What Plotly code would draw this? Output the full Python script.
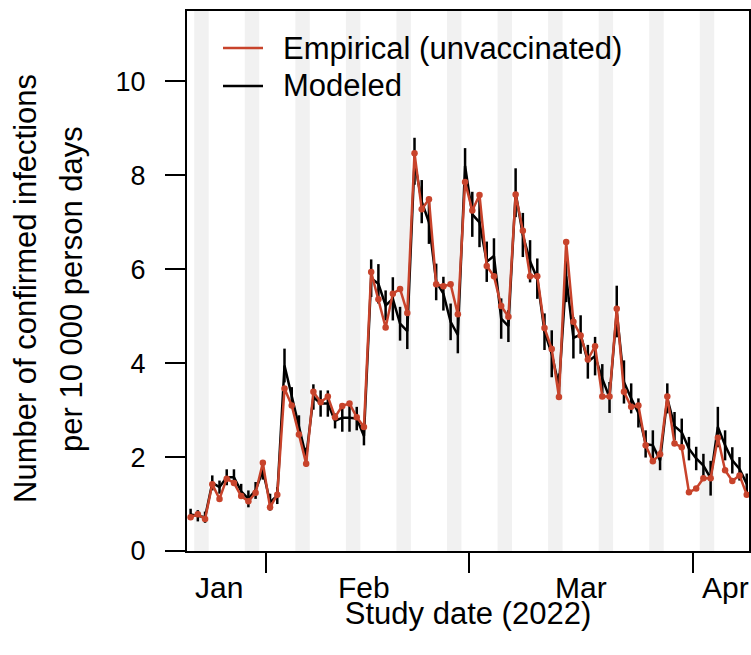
import plotly.graph_objects as go
import pandas as pd

# ---------------- data ----------------
start_date = "2022-01-21"
n_days = 78

empirical = [0.72, 0.78, 0.68, 1.42, 1.11, 1.54, 1.45, 1.17, 1.06, 1.24,
             1.88, 0.93, 1.20, 3.46, 3.10, 2.48, 1.86, 3.39, 3.17, 3.29,
             2.85, 3.09, 3.14, 2.85, 2.64, 5.94, 5.36, 4.76, 5.48, 5.58,
             5.07, 8.47, 7.28, 7.49, 5.68, 5.64, 5.68, 5.04, 7.86, 7.25,
             7.58, 6.07, 5.85, 5.22, 4.99, 7.59, 6.82, 5.85, 5.85, 4.75,
             4.30, 3.28, 6.58, 4.88, 4.59, 4.08, 4.36, 3.29, 3.29, 5.16,
             3.39, 3.07, 3.10, 2.25, 1.91, 2.06, 3.29, 2.29, 2.21, 1.25,
             1.33, 1.55, 1.55, 2.41, 1.72, 1.49, 1.61, 1.20]

modeled = [0.78, 0.75, 0.72, 1.45, 1.36, 1.57, 1.57, 1.27, 1.11, 1.29,
           1.72, 1.04, 1.18, 3.95, 3.28, 2.66, 2.00, 3.28, 3.14, 3.14,
           2.77, 2.84, 2.84, 2.82, 2.45, 5.81, 5.69, 5.23, 5.37, 4.84,
           4.68, 8.30, 7.44, 7.00, 5.73, 5.48, 4.88, 4.60, 8.20, 7.17,
           7.00, 6.16, 6.28, 4.95, 4.79, 7.63, 6.73, 6.17, 5.80, 4.67,
           4.20, 3.50, 5.85, 4.54, 4.61, 4.03, 4.15, 3.67, 3.27, 5.10,
           3.60, 3.25, 2.94, 2.28, 2.25, 1.93, 3.25, 2.66, 2.53, 2.18,
           1.97, 1.82, 1.55, 2.64, 2.25, 1.93, 1.75, 1.43]

modeled_err = [0.12, 0.12, 0.12, 0.16, 0.14, 0.17, 0.17, 0.16, 0.18, 0.18,
               0.20, 0.18, 0.18, 0.36, 0.21, 0.23, 0.20, 0.27, 0.28, 0.28,
               0.16, 0.30, 0.30, 0.25, 0.20, 0.40, 0.42, 0.32, 0.46, 0.36,
               0.38, 0.50, 0.46, 0.46, 0.39, 0.36, 0.39, 0.39, 0.38, 0.48,
               0.53, 0.43, 0.38, 0.43, 0.34, 0.52, 0.47, 0.45, 0.43, 0.39,
               0.50, 0.28, 0.55, 0.44, 0.41, 0.36, 0.41, 0.31, 0.33, 0.55,
               0.46, 0.32, 0.31, 0.29, 0.32, 0.21, 0.32, 0.30, 0.29, 0.25,
               0.25, 0.25, 0.37, 0.43, 0.32, 0.28, 0.25, 0.22]

weekend_saturdays = ["2022-01-22", "2022-01-29", "2022-02-05", "2022-02-12",
                     "2022-02-19", "2022-02-26", "2022-03-05", "2022-03-12",
                     "2022-03-19", "2022-03-26", "2022-04-02"]

month_tick_dates = ["2022-02-01", "2022-03-01", "2022-04-01"]
month_labels = ["Jan", "Feb", "Mar", "Apr"]
month_label_dates = ["2022-01-25 09:00", "2022-02-14 12:00",
                     "2022-03-16 12:00", "2022-04-05 12:00"]
x_range = ["2022-01-21 00:00", "2022-04-08 19:30"]
y_tick_vals = [0, 2, 4, 6, 8, 10]

series_names = ["Empirical (unvaccinated)", "Modeled"]

# ---------------- styles ----------------
RED = "#C8432B"
FONT = "Liberation Sans, Arial, sans-serif"
FIG_W, FIG_H = 751, 655
M_L, M_R, M_T, M_B = 187, 2, 11, 104
PLOT_W = FIG_W - M_L - M_R
PLOT_H = FIG_H - M_T - M_B


def px_x(px):  # page pixel -> paper x
    return (px - M_L) / PLOT_W


def px_y(py):  # page pixel -> paper y
    return (FIG_H - M_B - py) / PLOT_H


dates = pd.date_range(start_date, periods=n_days, freq="D") + pd.Timedelta(hours=12)

fig = go.Figure()
fig.add_trace(go.Scatter(
    x=dates, y=modeled, name=series_names[1], mode="lines",
    line=dict(color="black", width=2.5),
    error_y=dict(type="data", array=modeled_err, visible=True,
                 color="black", thickness=2.5, width=0),
    showlegend=False,
))
fig.add_trace(go.Scatter(
    x=dates, y=empirical, name=series_names[0], mode="lines+markers",
    line=dict(color=RED, width=2.5),
    marker=dict(color=RED, size=6.5),
    showlegend=False,
))

shapes = []
for s in weekend_saturdays:
    s0 = pd.Timestamp(s)
    shapes.append(dict(type="rect", xref="x", yref="paper",
                       x0=s0, x1=s0 + pd.Timedelta(days=2), y0=0, y1=1,
                       fillcolor="#F1F1F1", line=dict(width=0), layer="below"))

annotations = []
# legend (line keys + labels)
for name, col, py in [(series_names[0], RED, 48), (series_names[1], "black", 86)]:
    shapes.append(dict(type="line", xref="paper", yref="paper",
                       x0=px_x(223), x1=px_x(263), y0=px_y(py), y1=px_y(py),
                       line=dict(color=col, width=2.5)))
    annotations.append(dict(text=name, x=px_x(281), y=px_y(py), xref="paper",
                            yref="paper", xanchor="left", yanchor="middle",
                            showarrow=False,
                            font=dict(size=31, color="black", family=FONT)))

for lab, d in zip(month_labels, month_label_dates):
    annotations.append(dict(text=lab, x=d, xref="x", y=px_y(587), yref="paper",
                            xanchor="center", yanchor="middle", showarrow=False,
                            font=dict(size=30, color="black", family=FONT)))

annotations.append(dict(text="Number of confirmed infections", textangle=-90,
                        x=px_x(25), xref="paper", y=px_y(289), yref="paper",
                        xanchor="center", yanchor="middle", showarrow=False,
                        font=dict(size=31, color="black", family=FONT)))
annotations.append(dict(text="per 10 000 person days", textangle=-90,
                        x=px_x(71), xref="paper", y=px_y(289), yref="paper",
                        xanchor="center", yanchor="middle", showarrow=False,
                        font=dict(size=31, color="black", family=FONT)))

fig.update_layout(
    width=FIG_W, height=FIG_H,
    margin=dict(l=M_L, r=M_R, t=M_T, b=M_B, autoexpand=False),
    paper_bgcolor="white", plot_bgcolor="white",
    font=dict(family=FONT, size=27, color="black"),
    showlegend=False,
    shapes=shapes,
    annotations=annotations,
)

fig.update_xaxes(
    type="date", range=x_range,
    tickvals=month_tick_dates, ticktext=["", "", ""],
    ticks="outside", ticklen=20, tickwidth=2, tickcolor="black",
    showline=True, linecolor="black", linewidth=2, mirror=True,
    showgrid=False, zeroline=False,
    title=dict(text="Study date (2022)", font=dict(size=31), standoff=25),
)
fig.update_yaxes(
    range=[0, 11.5], tickvals=y_tick_vals,
    ticks="outside", ticklen=20, tickwidth=2, tickcolor="black",
    ticklabelstandoff=14,
    showline=True, linecolor="black", linewidth=2, mirror=True,
    showgrid=False, zeroline=False,
    tickfont=dict(size=27),
)

fig.write_html(
    "out.html",
    config={"displayModeBar": False},
    post_script="document.body.style.margin='0';document.body.style.overflow='hidden';",
)
